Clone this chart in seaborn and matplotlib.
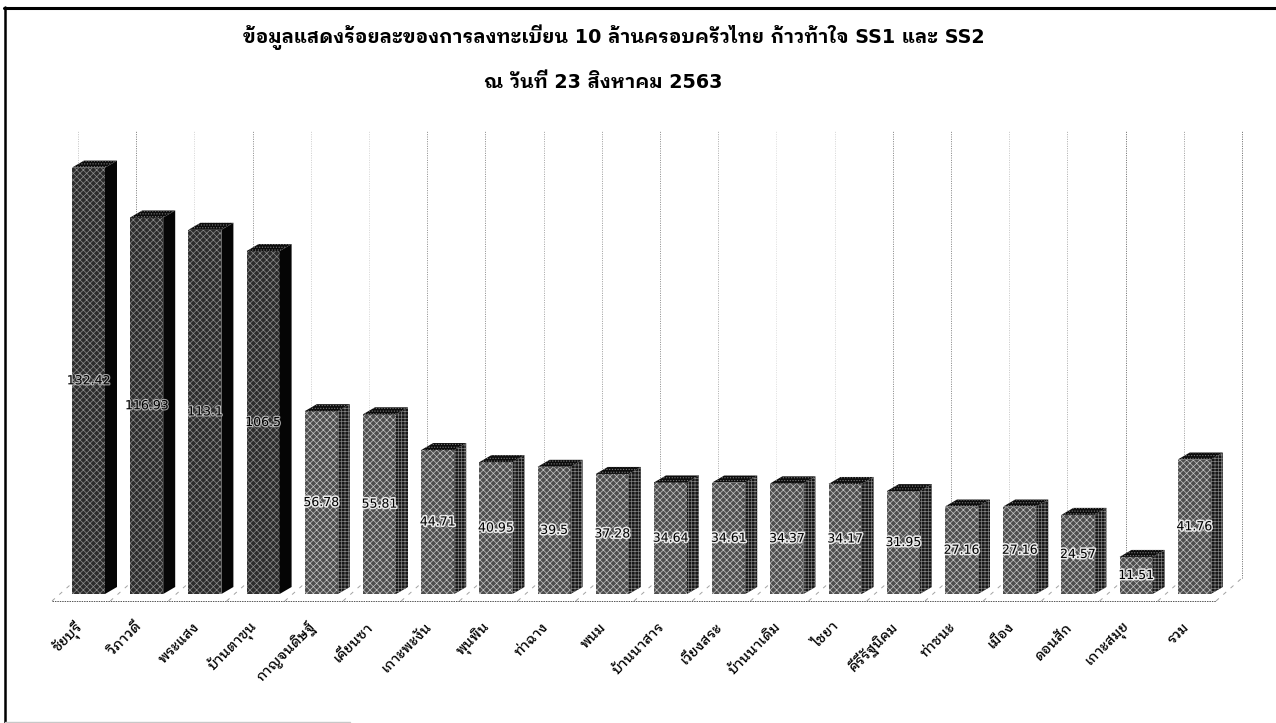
import matplotlib
matplotlib.use("Agg")
import matplotlib.pyplot as plt
import matplotlib.patheffects as pe
from matplotlib.lines import Line2D
from matplotlib.patches import Polygon
from matplotlib.transforms import ScaledTranslation
import pandas as pd
import seaborn as sns

districts = ["ชัยบุรี", "วิภาวดี", "พระแสง", "บ้านตาขุน", "กาญจนดิษฐ์", "เคียนซา", "เกาะพะงัน",
             "พุนพิน", "ท่าฉาง", "พนม", "บ้านนาสาร", "เวียงสระ", "บ้านนาเดิม", "ไชยา",
             "คีรีรัฐนิคม", "ท่าชนะ", "เมือง", "ดอนสัก", "เกาะสมุย", "รวม"]
percent = [132.42, 116.93, 113.1, 106.5, 56.78, 55.81, 44.71,
           40.95, 39.5, 37.28, 34.64, 34.61, 34.37, 34.17,
           31.95, 27.16, 27.16, 24.57, 11.51, 41.76]
value_labels = ["132.42", "116.93", "113.1", "106.5", "56.78", "55.81", "44.71",
                "40.95", "39.5", "37.28", "34.64", "34.61", "34.37", "34.17",
                "31.95", "27.16", "27.16", "24.57", "11.51", "41.76"]
title_lines = ["ข้อมูลแสดงร้อยละของการลงทะเบียน 10 ล้านครอบครัวไทย ก้าวท้าใจ SS1 และ SS2",
               "ณ วันที่ 23 สิงหาคม 2563"]
# How strongly each back-wall rule prints, left to right
wall_rule_alpha = [0.35, 0.8, 0.25, 0.7, 0.3, 0.25, 0.7, 0.7, 0.55, 0.6, 0.7,
                   0.5, 0.2, 0.25, 0.75, 0.75, 0.35, 0.5, 0.9, 0.6, 0.9]

W, H = 1276, 723
PX_PER_CAT, PX_PER_UNIT = 58.2, 3.22
BASE_Y, LEFT_X, TOP_Y = 594, 59.4, 130

sns.set_theme(style="white")
plt.rcParams["font.family"] = ["DejaVu Sans", "IBM Plex Sans Thai Looped", "FreeSerif"]
plt.rcParams["hatch.linewidth"] = 0.5

fig = plt.figure(figsize=(W / 100, H / 100), dpi=100, facecolor="white")
n = len(districts)
ax = fig.add_axes([LEFT_X / W, (H - BASE_Y) / H, n * PX_PER_CAT / W, (BASE_Y - TOP_Y) / H])

def dx(px):
    return px / PX_PER_CAT

def dy(px):
    return px / PX_PER_UNIT

frame = pd.DataFrame({"district": districts, "percent": percent})
face = ["#2c2c2c" if v > 100 else "#4e4e4e" for v in percent]
sns.barplot(data=frame, x="district", y="percent", hue="district", palette=face,
            legend=False, width=33 / PX_PER_CAT, saturation=1, ax=ax, zorder=4)
ax.set_xlim(-0.5, n - 0.5)
ax.set_ylim(0, (BASE_Y - TOP_Y) / PX_PER_UNIT)
ax.set_xlabel("")
ax.set_ylabel("")
ax.set_yticks([])
sns.despine(ax=ax, left=True, bottom=True)
ax.tick_params(axis="x", length=0, pad=22)
ax.set_xticks(range(n))
ax.set_xticklabels(districts, rotation=45, ha="right", va="center",
                   rotation_mode="anchor", fontsize=10, fontweight=500, color="black")
shift_left = ScaledTranslation(-8 / 100, 0, fig.dpi_scale_trans)
for tick_label in ax.get_xticklabels():
    tick_label.set_transform(tick_label.get_transform() + shift_left)

# Extrude each bar into a box: side and top faces follow the bar's own geometry
depth_x, depth_y = dx(12), dy(7)
for bar, value in zip(list(ax.patches), percent):
    dark = value > 100
    x0, x1 = bar.get_x(), bar.get_x() + bar.get_width()
    top = bar.get_height()
    bar.set_hatch("xxxxx")
    bar.set_edgecolor("#8c8c8c" if dark else "#c4c4c4")
    bar.set_linewidth(0)
    side = Polygon([(x1, 0), (x1 + depth_x, depth_y), (x1 + depth_x, top + depth_y), (x1, top)],
                   facecolor="#050505" if dark else "#161616",
                   edgecolor="#4a4a4a" if dark else "#808080",
                   hatch="" if dark else "+++++", lw=0, zorder=4, clip_on=False)
    lid = Polygon([(x0, top), (x0 + depth_x, top + depth_y), (x1 + depth_x, top + depth_y), (x1, top)],
                  facecolor="#0c0c0c", edgecolor="#777777", hatch="......", lw=0,
                  zorder=4, clip_on=False)
    ax.add_patch(side)
    ax.add_patch(lid)

# Values at mid-height of each bar, with a stronger halo on the lighter bars
for container, text, value in zip(ax.containers, value_labels, percent):
    halo = [pe.withStroke(linewidth=1.6 if value > 100 else 2.2, foreground="white",
                          alpha=0.6 if value > 100 else 0.85)]
    for label in ax.bar_label(container, labels=[text], label_type="center", fontsize=9,
                              color="black", zorder=6):
        label.set_path_effects(halo)
        label.set_zorder(6)

# Floor and back wall of the chart box
floor_left = -0.5 - dx(7.4)
floor_front = -dy(7)
floor_back = dy(16)
floor_dx = dx(26)
grid_style = dict(color="#555555", lw=0.7, clip_on=False)
ax.plot([floor_left, floor_left + n], [floor_front, floor_front], ls=(0, (1.5, 1)), zorder=2,
        **grid_style)
for k, alpha in enumerate(wall_rule_alpha):
    xb = floor_left + k + floor_dx
    ax.plot([xb, xb], [floor_back, ax.get_ylim()[1]], ls=(0, (1, 1.4)), alpha=alpha, zorder=1,
            **grid_style)
    ax.plot([floor_left + k, xb], [floor_front, floor_back], ls=(0, (4, 6)), alpha=0.55, zorder=2,
            **grid_style)

# Page frame
def frame_line(xs, ys, **kw):
    fig.add_artist(Line2D([x / W for x in xs], [1 - y / H for y in ys], **kw))

frame_line([4, W], [7.5, 7.5], color="black", lw=2.2)
frame_line([5.3, 5.3], [6.5, H], color="black", lw=1.8)
frame_line([5, 350], [722, 722], color="#c8c8c8", lw=1)

fig.text(614 / W, 1 - 37 / H, title_lines[0], ha="center", va="center", fontsize=13.75,
         fontweight="bold", color="black")
fig.text(603 / W, 1 - 82 / H, title_lines[1], ha="center", va="center", fontsize=13.75,
         fontweight="bold", color="black")

fig.savefig("out.png", dpi=100, facecolor="white")
